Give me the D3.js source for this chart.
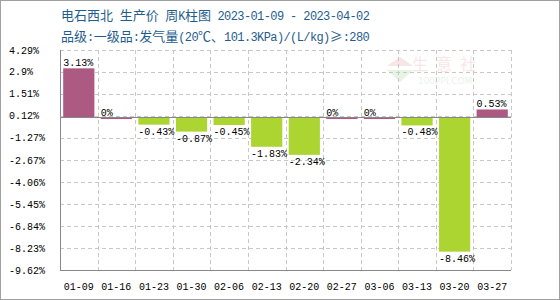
<!DOCTYPE html>
<html><head><meta charset="utf-8">
<script src="https://cdn.jsdelivr.net/npm/d3@7"></script>
<style>body{margin:0;background:#fff}svg{display:block}</style>
</head><body>
<svg id="c" width="560" height="300"></svg>
<script>
const categories = ["01-09","01-16","01-23","01-30","02-06","02-13","02-20","02-27","03-06","03-13","03-20","03-27"];
const values = [3.13, 0, -0.43, -0.87, -0.45, -1.83, -2.34, 0, 0, -0.48, -8.46, 0.53];
const yTicks = [4.29, 2.9, 1.51, 0.12, -1.27, -2.67, -4.06, -5.45, -6.84, -8.23, -9.62];
const titleLine1 = "电石西北 生产价 周K柱图 2023-01-09 - 2023-04-02";
const titleLine2 = "品级:一级品:发气量(20℃、101.3KPa)/(L/kg)≥:280";

const W = 560, H = 300;
const m = {l:60, r:49, t:50, b:30};
const svg = d3.select("#c");
const mono = "'Liberation Mono','Noto Sans CJK SC',monospace";
const cjk = "'Noto Sans CJK SC',sans-serif";

svg.append("rect").attr("x",0.5).attr("y",0.5).attr("width",W-1).attr("height",H-1)
  .attr("fill","#fff").attr("stroke","#a0a0a0");

const x = d3.scaleBand().domain(categories).range([m.l, W-m.r]).paddingInner(0.17).paddingOuter(0.085);
const y = d3.scaleLinear().domain([-9.62, 4.29]).range([H-m.b, m.t]);
const bw = (W-m.r-m.l)/categories.length;

// watermark
const wm = svg.append("g").attr("opacity",0.12);
wm.append("path").attr("d","M400,57 L413,66 L387,66 Z").attr("fill","#c33");
wm.append("path").attr("d","M387,70 L413,70 L400,82 Z").attr("fill","#3a3");
wm.append("text").attr("x",448).attr("y",70).attr("text-anchor","middle")
  .attr("font-family",cjk).attr("font-size",16).attr("letter-spacing",8).attr("fill","#c33").text("生意社");
wm.append("text").attr("x",445).attr("y",84).attr("text-anchor","middle")
  .attr("font-family","'DejaVu Sans'").attr("font-size",9).attr("fill","#3a3").text("100PPI.COM");

// grid
const grid = svg.append("g").attr("stroke","#c8c8c8").attr("stroke-dasharray","4,3").attr("shape-rendering","crispEdges");
yTicks.forEach(t => {
  grid.append("line").attr("x1",m.l).attr("x2",W-m.r).attr("y1",Math.round(y(t))+0.5).attr("y2",Math.round(y(t))+0.5);
});
d3.range(1, categories.length+1).forEach(i => {
  const xx = Math.round(m.l + i*bw)+0.5;
  grid.append("line").attr("x1",xx).attr("x2",xx).attr("y1",m.t).attr("y2",H-m.b);
});

// bars
svg.append("g").selectAll("rect").data(values).join("rect")
  .attr("x",(d,i)=>x(categories[i]))
  .attr("width",x.bandwidth())
  .attr("y",d=> d>0 ? y(d) : y(0))
  .attr("height",d=> d===0 ? 1.2 : Math.abs(y(d)-y(0)))
  .attr("fill",d=> d>=0 ? "#ad5a83" : "#add531");

// axes lines
const ax = svg.append("g").attr("stroke","#888").attr("shape-rendering","crispEdges");
ax.append("line").attr("x1",m.l+0.5).attr("x2",m.l+0.5).attr("y1",m.t).attr("y2",H-m.b);
ax.append("line").attr("x1",m.l).attr("x2",W-m.r).attr("y1",H-m.b+0.5).attr("y2",H-m.b+0.5);
ax.append("line").attr("x1",m.l).attr("x2",W-m.r).attr("y1",y(0)).attr("y2",y(0));

// value labels
svg.append("g").selectAll("text").data(values).join("text")
  .attr("x",(d,i)=>x(categories[i]))
  .attr("y",d=> d>=0 ? y(d)-2 : y(d)+10)
  .attr("font-family",mono).attr("font-size",10).attr("fill","#000")
  .text(d=> d+"%");

// y tick labels
svg.append("g").selectAll("text").data(yTicks).join("text")
  .attr("x",9).attr("y",d=>y(d)).attr("dy","0.35em")
  .attr("font-family",mono).attr("font-size",10).attr("fill","#000")
  .text(d=>d+"%");

// x labels
svg.append("g").selectAll("text").data(categories).join("text")
  .attr("x",d=>x(d)+x.bandwidth()/2).attr("y",H-m.b+20)
  .attr("text-anchor","middle")
  .attr("font-family",mono).attr("font-size",10).attr("fill","#000")
  .text(d=>d);

// titles: split into wide (CJK) and narrow runs
function runs(s){
  const out=[]; 
  for(const ch of s){
    const wide = ch.codePointAt(0) > 0x2000;
    if(out.length && out[out.length-1].wide===wide) out[out.length-1].t+=ch;
    else out.push({wide, t:ch});
  }
  return out;
}
function title(s, yy){
  const t = svg.append("text").attr("x",61).attr("y",yy).attr("fill","#1f5d8e").attr("xml:space","preserve");
  runs(s).forEach(r=>{
    const sp = t.append("tspan").attr("font-family", r.wide?cjk:mono)
      .attr("font-size", r.wide?13:12).text(r.t);
    if(!r.wide) sp.attr("letter-spacing",-0.6);
  });
}
title(titleLine1, 20);
title(titleLine2, 41);
</script>
</body></html>
